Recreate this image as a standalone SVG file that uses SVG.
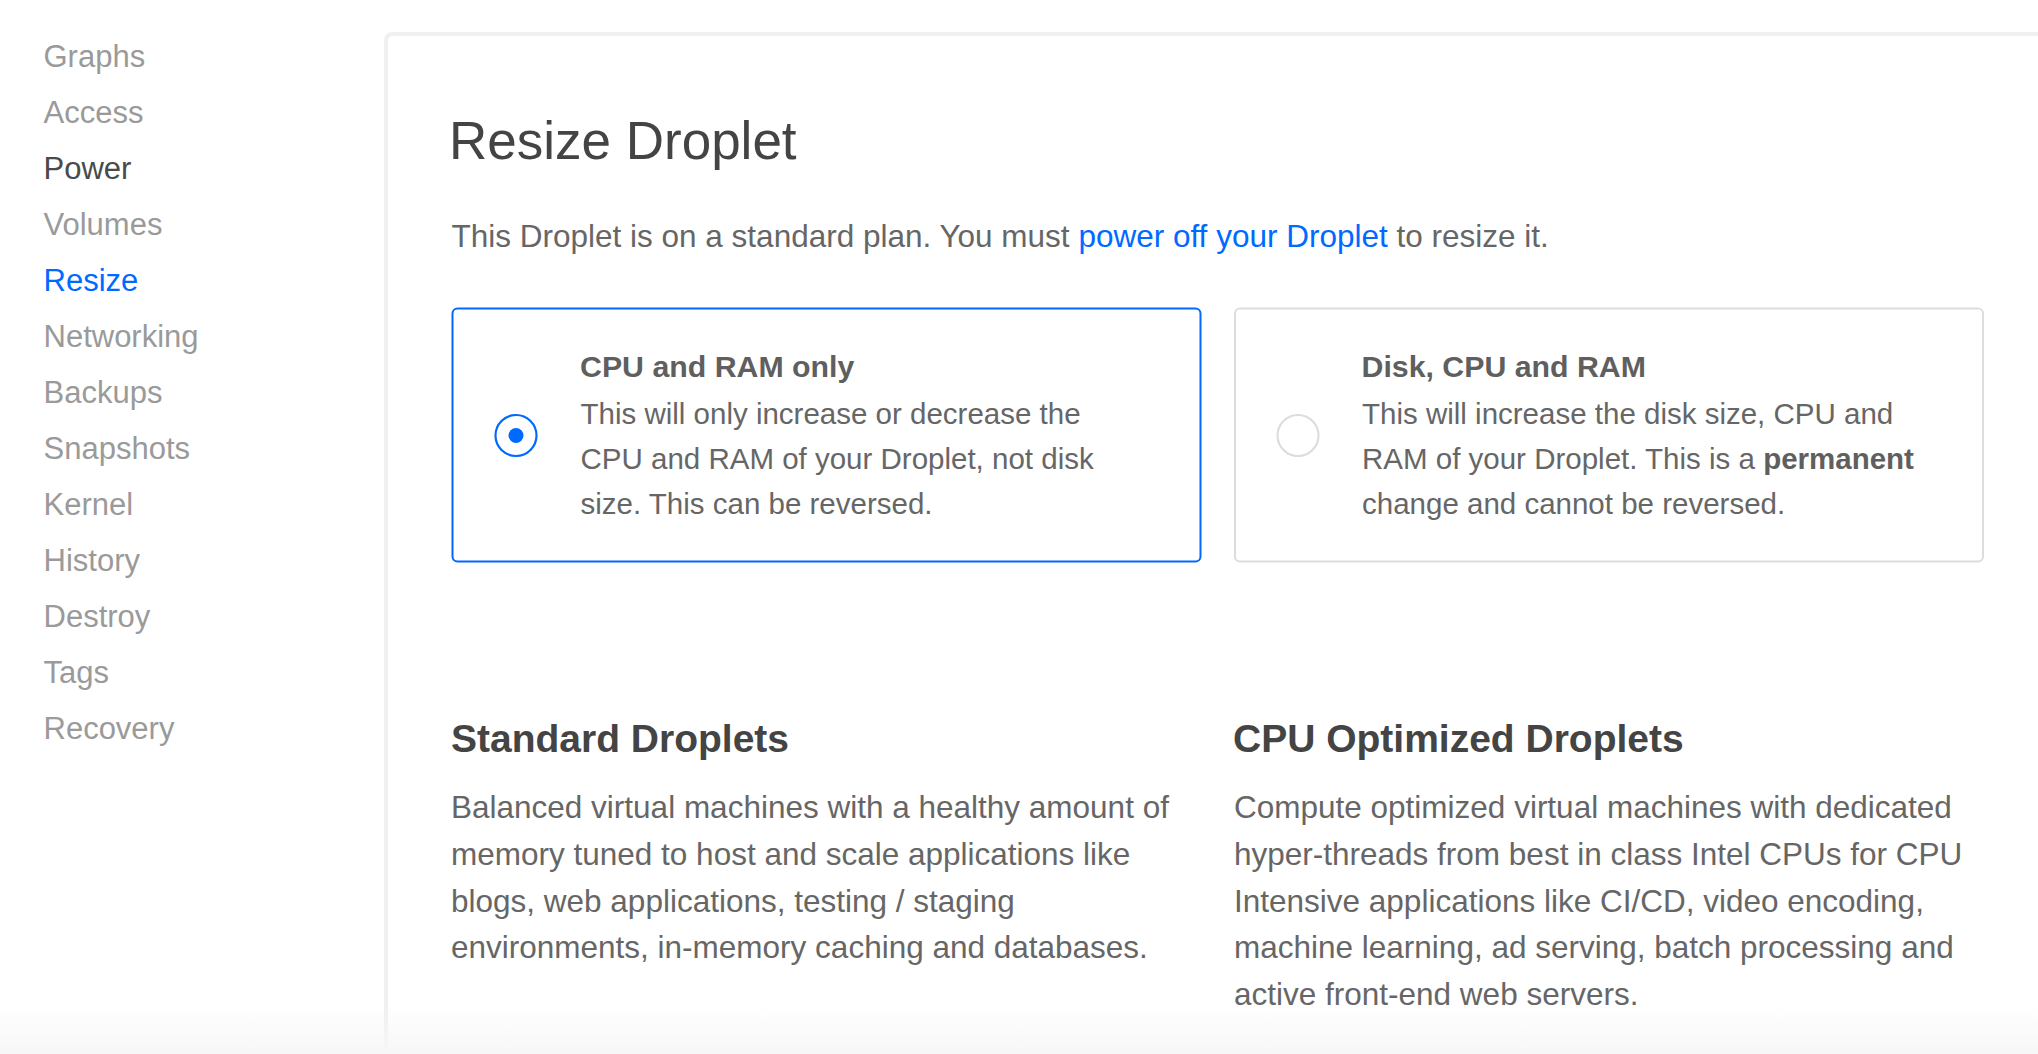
<svg xmlns="http://www.w3.org/2000/svg" width="2038" height="1054" viewBox="0 0 2038 1054">
  <defs>
    <style>
      text { font-family: "Liberation Sans", Arial, sans-serif; }
      .nav { font-size: 31px; fill: #9a9a9a; }
      .nav-dark { fill: #4a4a4a; }
      .nav-active { fill: #0069ff; }
      .h1 { font-size: 53px; fill: #444444; }
      .lead { font-size: 31.5px; fill: #666666; }
      .link { fill: #0069ff; }
      .card { fill: #ffffff; stroke-width: 2; }
      .card-on { stroke: #0069ff; }
      .card-off { stroke: #dddddd; }
      .ctitle { font-size: 30.3px; font-weight: bold; fill: #5f5f5f; }
      .cbody { font-size: 29.5px; fill: #666666; }
      .strong { font-weight: bold; fill: #5f5f5f; }
      .h2 { font-size: 39px; font-weight: bold; fill: #444444; }
      .desc { font-size: 31.5px; fill: #666666; }
    </style>
    <linearGradient id="fade" x1="0" y1="0" x2="0" y2="1">
      <stop offset="0" stop-color="#f7f7f7" stop-opacity="0"/>
      <stop offset="1" stop-color="#f7f7f7" stop-opacity="1"/>
    </linearGradient>
  </defs>

  <rect x="0" y="0" width="2038" height="1054" fill="#ffffff"/>

  <g id="sidebar">
    <text class="nav" x="43.5" y="66.5">Graphs</text>
    <text class="nav" x="43.5" y="122.5">Access</text>
    <text class="nav nav-dark" x="43.5" y="178.6">Power</text>
    <text class="nav" x="43.5" y="234.7">Volumes</text>
    <text class="nav nav-active" x="43.5" y="290.8">Resize</text>
    <text class="nav" x="43.5" y="346.8">Networking</text>
    <text class="nav" x="43.5" y="402.9">Backups</text>
    <text class="nav" x="43.5" y="459">Snapshots</text>
    <text class="nav" x="43.5" y="515">Kernel</text>
    <text class="nav" x="43.5" y="571">History</text>
    <text class="nav" x="43.5" y="627">Destroy</text>
    <text class="nav" x="43.5" y="683">Tags</text>
    <text class="nav" x="43.5" y="739">Recovery</text>
  </g>

  <g id="panel">
    <path d="M 386 1054 V 41 Q 386 34 393 34 H 2038" fill="none" stroke="#f0f0f0" stroke-width="4"/>
  </g>

  <g id="header">
    <text class="h1" x="449" y="158.5">Resize Droplet</text>
    <text class="lead" x="451.5" y="246.5">This Droplet is on a standard plan. You must <tspan class="link">power off your Droplet</tspan> to resize it.</text>
  </g>

  <g id="option-cpu-ram">
    <rect class="card card-on" x="452.5" y="308.5" width="748" height="253" rx="5"/>
    <circle cx="516" cy="435.5" r="20.5" fill="#ffffff" stroke="#0069ff" stroke-width="2.2"/>
    <circle cx="516" cy="435.5" r="7.5" fill="#0069ff"/>
    <text class="ctitle" x="580" y="377">CPU and RAM only</text>
    <text class="cbody" x="580.5" y="423.5">This will only increase or decrease the</text>
    <text class="cbody" x="580.5" y="468.5">CPU and RAM of your Droplet, not disk</text>
    <text class="cbody" x="580.5" y="513.5">size. This can be reversed.</text>
  </g>

  <g id="option-disk-cpu-ram">
    <rect class="card card-off" x="1235" y="308.5" width="748" height="253" rx="5"/>
    <circle cx="1298" cy="435.5" r="20.5" fill="#ffffff" stroke="#dddddd" stroke-width="2.2"/>
    <text class="ctitle" x="1361.5" y="377">Disk, CPU and RAM</text>
    <text class="cbody" x="1362" y="423.5">This will increase the disk size, CPU and</text>
    <text class="cbody" x="1362" y="468.5">RAM of your Droplet. This is a <tspan class="strong">permanent</tspan></text>
    <text class="cbody" x="1362" y="513.5">change and cannot be reversed.</text>
  </g>

  <g id="standard-droplets">
    <text class="h2" x="451" y="752">Standard Droplets</text>
    <text class="desc" x="451" y="818.3">Balanced virtual machines with a healthy amount of</text>
    <text class="desc" x="451" y="865">memory tuned to host and scale applications like</text>
    <text class="desc" x="451" y="911.7">blogs, web applications, testing / staging</text>
    <text class="desc" x="451" y="958.3">environments, in-memory caching and databases.</text>
  </g>

  <g id="cpu-optimized-droplets">
    <text class="h2" x="1233" y="752">CPU Optimized Droplets</text>
    <text class="desc" x="1234" y="818.3">Compute optimized virtual machines with dedicated</text>
    <text class="desc" x="1234" y="865">hyper-threads from best in class Intel CPUs for CPU</text>
    <text class="desc" x="1234" y="911.7">Intensive applications like CI/CD, video encoding,</text>
    <text class="desc" x="1234" y="958.3">machine learning, ad serving, batch processing and</text>
    <text class="desc" x="1234" y="1005">active front-end web servers.</text>
  </g>

  <g id="connectors"/>

  <rect x="0" y="1005" width="2038" height="49" fill="url(#fade)"/>
</svg>
